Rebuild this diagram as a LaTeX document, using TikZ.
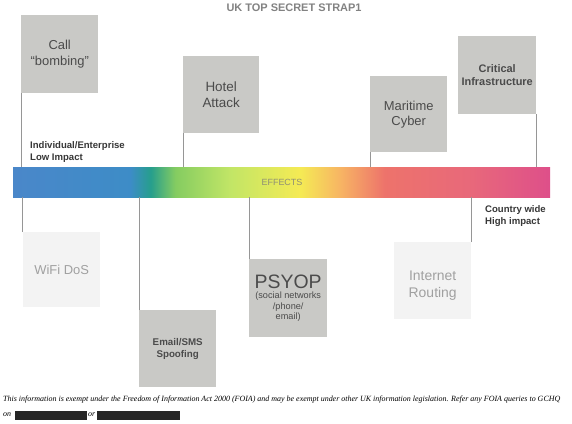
\documentclass[tikz,border=0pt]{standalone}
\usepackage{fontspec}
\setmainfont{Liberation Sans}
\newfontfamily\footfont{Liberation Serif}
\definecolor{boxgray}{RGB}{201,201,198}
\definecolor{boxlight}{RGB}{243,243,243}
\definecolor{darktext}{RGB}{75,75,75}
\definecolor{lighttext}{RGB}{160,160,160}
\definecolor{linegray}{RGB}{150,150,150}
\definecolor{titlegray}{RGB}{130,130,130}
\definecolor{labeltext}{RGB}{55,55,55}
\pgfdeclarehorizontalshading{effects}{100bp}{%
rgb(0bp)=(0.29,0.53,0.79);
rgb(25bp)=(0.29,0.53,0.79);
rgb(35.9bp)=(0.24,0.55,0.78);
rgb(37.8bp)=(0.15,0.62,0.55);
rgb(40.1bp)=(0.52,0.80,0.38);
rgb(45.2bp)=(0.76,0.90,0.40);
rgb(51.7bp)=(0.96,0.92,0.33);
rgb(55.4bp)=(0.97,0.71,0.39);
rgb(59.6bp)=(0.93,0.45,0.42);
rgb(67.5bp)=(0.91,0.41,0.48);
rgb(75bp)=(0.87,0.31,0.54);
rgb(100bp)=(0.87,0.31,0.54)}
\tikzset{
  darkbox/.style={fill=boxgray, draw=none, anchor=north west, inner sep=0pt,
    align=center, text=darktext},
  lightbox/.style={fill=boxlight, draw=none, anchor=north west, inner sep=0pt,
    align=center, text=lighttext},
  conn/.style={draw=linegray, line width=0.6bp},
  impact/.style={anchor=north west, align=left, inner sep=0pt, text=labeltext,
    font=\bfseries\fontsize{9.6}{12}\selectfont},
  foottext/.style={anchor=west, inner sep=0pt, font=\footfont\itshape\fontsize{8}{9}\selectfont},
  redact/.style={fill=black!85, draw=none, anchor=north west, inner sep=0pt}
}
\begin{document}
\begin{tikzpicture}[x=1bp, y=-1bp]
\useasboundingbox[fill=white] (0,0) rectangle (572,423);
% title
\node[font=\bfseries\fontsize{11}{12}\selectfont, text=titlegray, inner sep=0pt] (title) at (294,8) {UK TOP SECRET STRAP1};
% effects bar
\node[shade, shading=effects, draw=none, anchor=north west, minimum width=537bp, minimum height=30bp, inner sep=0pt] (bar) at (13,167) {};
\node[font=\fontsize{9}{10}\selectfont, text=titlegray!90!yellow, inner sep=0pt] (effects) at (282,182) {EFFECTS};
% upper boxes
\node[darkbox, minimum width=77bp, minimum height=78bp, font=\fontsize{13}{16}\selectfont] (call) at (21,15) {Call\\“bombing”};
\node[darkbox, minimum width=76bp, minimum height=77bp, font=\fontsize{13.5}{17}\selectfont] (hotel) at (183,56) {Hotel\\Attack};
\node[darkbox, minimum width=77bp, minimum height=76bp, font=\fontsize{13}{15}\selectfont] (maritime) at (370,76) {Maritime\\Cyber};
\node[darkbox, minimum width=78bp, minimum height=78bp, font=\bfseries\fontsize{11}{13}\selectfont] (critical) at (458,36) {Critical\\Infrastructure};
% lower boxes
\node[lightbox, minimum width=77bp, minimum height=75bp, font=\fontsize{13}{15}\selectfont] (wifi) at (23,232) {WiFi DoS};
\node[darkbox, minimum width=77bp, minimum height=77bp, font=\bfseries\fontsize{9.8}{12}\selectfont] (email) at (139,310) {Email/SMS\\Spoofing};
\node[darkbox, minimum width=78bp, minimum height=78bp] (psyop) at (249,259) {{\fontsize{19.5}{20}\selectfont PSYOP}\\[-2pt]{\fontsize{9.2}{8}\selectfont (social networks}\\[-1pt]{\fontsize{9.2}{8}\selectfont /phone/}\\[-1pt]{\fontsize{9.2}{8}\selectfont email)}};
\node[lightbox, minimum width=77bp, minimum height=77bp, font=\fontsize{14}{17}\selectfont] (inet) at (394,242) {\rule{0pt}{19bp}Internet\\Routing};
% connectors
\draw[conn] (call.south west) -- (call.south west |- bar.north);
\draw[conn] (hotel.south west) -- (hotel.south west |- bar.north);
\draw[conn] (maritime.south west) -- (maritime.south west |- bar.north);
\draw[conn] (critical.south east) -- (critical.south east |- bar.north);
\draw[conn] ([xshift=-1bp]wifi.north west) -- ([xshift=-1bp]wifi.north west |- bar.south);
\draw[conn] (email.north west) -- (email.north west |- bar.south);
\draw[conn] (psyop.north west) -- (psyop.north west |- bar.south);
\draw[conn] (inet.north east) -- (inet.north east |- bar.south);
% impact labels
\node[impact] (low) at (30,141) {Individual/Enterprise\\Low Impact};
\node[impact] (high) at (485,205) {Country wide\\High impact};
% footer
\node[foottext] (foot1) at (3,400) {This information is exempt under the Freedom of Information Act 2000 (FOIA) and may be exempt under other UK information legislation. Refer any FOIA queries to GCHQ};
\node[foottext] (on) at (3,415) {on};
\node[redact, minimum width=72bp, minimum height=9bp] (r1) at (15,411) {};
\node[foottext] (or) at (88,415) {or};
\node[redact, minimum width=83bp, minimum height=9bp] (r2) at (97,411) {};
\end{tikzpicture}
\end{document}
